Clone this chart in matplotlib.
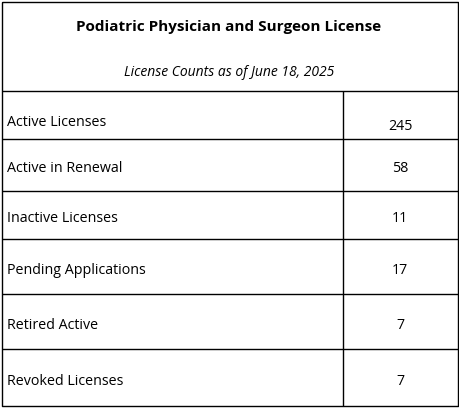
import matplotlib
matplotlib.use("Agg")
import matplotlib.pyplot as plt

title = "Podiatric Physician and Surgeon License"
subtitle = "License Counts as of June 18, 2025"
categories = ["Active Licenses", "Active in Renewal", "Inactive Licenses",
              "Pending Applications", "Retired Active", "Revoked Licenses"]
counts = [245, 58, 11, 17, 7, 7]

W, H = 459, 408
fig = plt.figure(figsize=(W/100, H/100), dpi=100)
ax = fig.add_axes([0, 0, 1, 1])
ax.set_xlim(0, W); ax.set_ylim(H, 0); ax.axis("off")

row_edges = [91, 139, 191, 239, 294, 349, 406]
lw = 1.0
kw = dict(color="black", lw=lw, solid_capstyle="butt")
ax.plot([1.5, 457.5, 457.5, 1.5, 1.5], [1.5, 1.5, 406, 406, 1.5], **kw)
for y in row_edges[:-1]:
    ax.plot([1.5, 457.5], [y, y], **kw)
ax.plot([343, 343], [row_edges[0], row_edges[-1]], **kw)

fam = ["Open Sans", "DejaVu Sans"]
ax.text(229, 27, title, ha="center", va="center", fontsize=11, fontweight="bold", family=fam)
ax.text(229, 72, subtitle, ha="center", va="center", fontsize=10, style="italic", family=fam)
for i, (c, v) in enumerate(zip(categories, counts)):
    top, bot = row_edges[i], row_edges[i+1]
    mid = (top + bot) / 2
    ylab = mid + (8 if i == 0 else 4)
    yval = mid + (12 if i == 0 else 4)
    ax.text(7, ylab, c, ha="left", va="center", fontsize=10.3, family=fam)
    ax.text(400, yval, str(v), ha="center", va="center", fontsize=10.3, family=fam)

fig.savefig("out.png", dpi=100)
